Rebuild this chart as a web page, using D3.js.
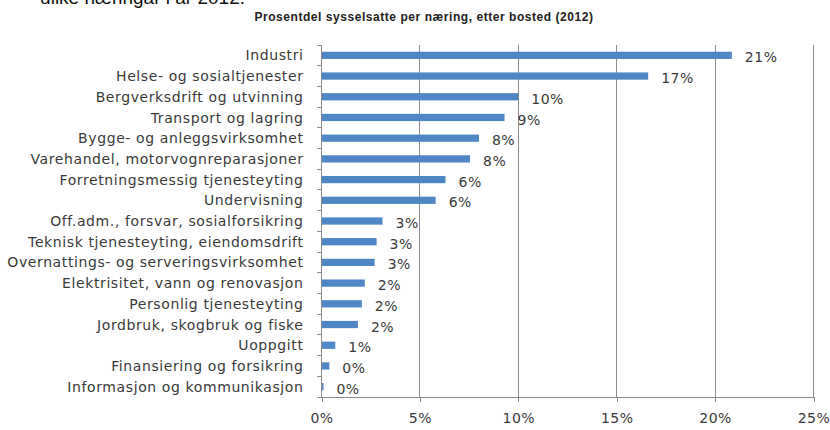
<!DOCTYPE html>
<html>
<head>
<meta charset="utf-8">
<script src="https://cdn.jsdelivr.net/npm/d3@7"></script>
<style>
  html, body { margin: 0; padding: 0; background: #fff; }
  svg { display: block; }
</style>
</head>
<body>
<svg id="chart" width="830" height="430"></svg>
<script>
const categories = [
  "Industri",
  "Helse- og sosialtjenester",
  "Bergverksdrift og utvinning",
  "Transport og lagring",
  "Bygge- og anleggsvirksomhet",
  "Varehandel, motorvognreparasjoner",
  "Forretningsmessig tjenesteyting",
  "Undervisning",
  "Off.adm., forsvar, sosialforsikring",
  "Teknisk tjenesteyting, eiendomsdrift",
  "Overnattings- og serveringsvirksomhet",
  "Elektrisitet, vann og renovasjon",
  "Personlig tjenesteyting",
  "Jordbruk, skogbruk og fiske",
  "Uoppgitt",
  "Finansiering og forsikring",
  "Informasjon og kommunikasjon"
];
const values = [20.85, 16.6, 10.0, 9.3, 8.0, 7.55, 6.3, 5.8, 3.1, 2.8, 2.7, 2.2, 2.05, 1.85, 0.7, 0.4, 0.1];
const xTicks = [0, 5, 10, 15, 20, 25];
const title = "Prosentdel sysselsatte per næring, etter bosted (2012)";
const fragment = "ulike næringar i år 2012.";

const svg = d3.select("#chart");
const pLeft = 321.5, pRight = 813.5, pTop = 45, pBottom = 397;
const gray = "#8c8c8c";
const textColor = "#3a3a3a";
const labelFont = "'DejaVu Sans', Verdana, sans-serif";

const x = d3.scaleLinear().domain([0, 25]).range([pLeft, pRight]);
const y = d3.scaleBand().domain(categories).range([pTop, pBottom])
  .paddingInner(0.65).paddingOuter(0.325);

// cut-off text from surrounding document (cropped at the top in the original)
svg.append("text").attr("x", 245).attr("y", 4).attr("text-anchor", "end")
  .attr("font-family", "'Liberation Sans', Arial, sans-serif").attr("font-size", 19)
  .attr("fill", "#111").text(fragment);

// title
svg.append("text").attr("x", 424).attr("y", 21).attr("text-anchor", "middle")
  .attr("font-family", "'Liberation Sans', Arial, sans-serif").attr("font-size", 12)
  .attr("letter-spacing", 0.55)
  .attr("font-weight", "bold").attr("fill", "#222").text(title);

// gridlines
svg.append("g").selectAll("line").data(xTicks.filter(t => t > 0)).join("line")
  .attr("x1", d => x(d)).attr("x2", d => x(d)).attr("y1", pTop).attr("y2", pBottom)
  .attr("stroke", gray).attr("stroke-width", 1).attr("shape-rendering", "crispEdges");

// x axis
const xAxis = svg.append("g").attr("transform", `translate(0,${pBottom})`)
  .call(d3.axisBottom(x).tickValues(xTicks).tickFormat(d => d + "%").tickSize(5).tickPadding(11));
xAxis.select(".domain").attr("stroke", gray).attr("shape-rendering", "crispEdges");
xAxis.selectAll(".tick line").attr("stroke", gray).attr("shape-rendering", "crispEdges");
xAxis.selectAll(".tick text").attr("font-family", labelFont).attr("font-size", 14)
  .attr("fill", textColor).attr("letter-spacing", 0.5);

// y axis
const step = y.step();
const yAxisG = svg.append("g");
yAxisG.append("line").attr("x1", pLeft).attr("x2", pLeft).attr("y1", pTop).attr("y2", pBottom)
  .attr("stroke", gray).attr("shape-rendering", "crispEdges");
yAxisG.selectAll("line.tk").data(d3.range(categories.length + 1)).join("line")
  .attr("class", "tk")
  .attr("x1", pLeft - 5).attr("x2", pLeft)
  .attr("y1", i => pTop + i * step).attr("y2", i => pTop + i * step)
  .attr("stroke", gray).attr("shape-rendering", "crispEdges");
yAxisG.selectAll("text").data(categories).join("text")
  .attr("x", pLeft - 18).attr("y", d => y(d) + y.bandwidth() / 2)
  .attr("dy", "0.36em").attr("text-anchor", "end")
  .attr("font-family", labelFont).attr("font-size", 14).attr("letter-spacing", 0.6)
  .attr("fill", textColor).text(d => d);

// bars
svg.append("g").selectAll("rect").data(categories).join("rect")
  .attr("x", x(0) + 0.5).attr("y", d => y(d))
  .attr("width", (d, i) => Math.max(0, x(values[i]) - x(0) - 0.5))
  .attr("height", y.bandwidth())
  .attr("fill", "#4f86c6");

// value labels
svg.append("g").selectAll("text").data(categories).join("text")
  .attr("x", (d, i) => x(values[i]) + 13)
  .attr("y", d => y(d) + y.bandwidth() / 2 + 2)
  .attr("dy", "0.36em")
  .attr("font-family", labelFont).attr("font-size", 14).attr("letter-spacing", 0.5)
  .attr("fill", textColor)
  .text((d, i) => Math.round(values[i]) + "%");
</script>
</body>
</html>
